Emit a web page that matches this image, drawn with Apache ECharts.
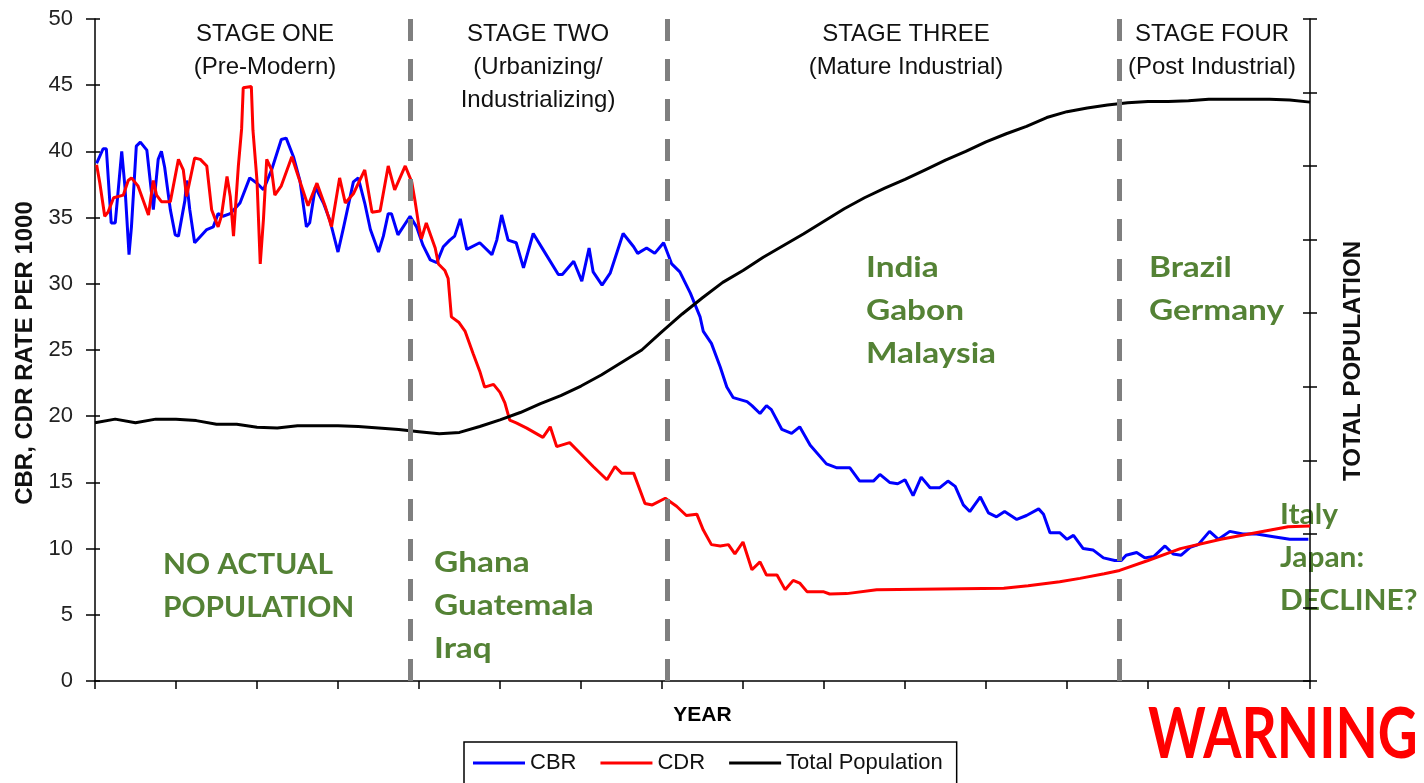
<!DOCTYPE html>
<html>
<head>
<meta charset="utf-8">
<title>Demographic Transition</title>
<script src="https://cdn.jsdelivr.net/npm/echarts@6/dist/echarts.min.js"></script>
<style>
  html, body { margin: 0; padding: 0; background: #fff; }
  #chart { width: 1424px; height: 783px; }
</style>
</head>
<body>
<div id="chart"></div>
<script>
// x = position along the (unlabelled) YEAR axis, 15 tick intervals
const cbr = [
  [0.02, 39.1], [0.10, 40.2], [0.14, 40.2], [0.20, 34.6], [0.25, 34.6], [0.33, 40.0], [0.37, 37.3],
  [0.42, 32.2], [0.45, 34.3], [0.51, 40.4], [0.56, 40.7], [0.64, 40.1], [0.69, 37.3], [0.72, 35.6],
  [0.78, 39.4], [0.82, 40.0], [0.86, 38.8], [0.93, 35.6], [0.99, 33.7], [1.03, 33.6], [1.11, 36.3],
  [1.13, 37.8], [1.17, 35.6], [1.23, 33.1], [1.29, 33.5], [1.38, 34.1], [1.46, 34.3], [1.52, 35.3],
  [1.58, 35.1], [1.67, 35.3], [1.79, 36.1], [1.91, 38.0], [2.00, 37.6], [2.08, 37.1], [2.18, 38.6],
  [2.30, 40.9], [2.36, 41.0], [2.45, 39.6], [2.53, 37.8], [2.61, 34.3], [2.65, 34.6], [2.72, 37.3],
  [2.82, 36.1], [2.90, 34.8], [3.00, 32.4], [3.07, 34.3], [3.19, 37.7], [3.25, 38.0], [3.33, 36.1],
  [3.40, 34.1], [3.50, 32.4], [3.56, 33.6], [3.62, 35.3], [3.66, 35.3], [3.74, 33.7], [3.89, 35.1],
  [3.97, 34.3], [4.05, 32.9], [4.14, 31.8], [4.22, 31.6], [4.30, 32.8], [4.38, 33.3], [4.44, 33.6],
  [4.51, 34.9], [4.59, 32.6], [4.75, 33.1], [4.90, 32.2], [4.96, 33.3], [5.02, 35.2], [5.10, 33.3],
  [5.20, 33.1], [5.29, 31.2], [5.41, 33.8], [5.53, 32.6], [5.72, 30.7], [5.77, 30.7], [5.91, 31.7],
  [6.01, 30.2], [6.10, 32.7], [6.15, 30.9], [6.26, 29.9], [6.36, 30.8], [6.52, 33.8], [6.65, 32.8],
  [6.70, 32.3], [6.81, 32.7], [6.91, 32.3], [7.02, 33.1], [7.12, 31.5], [7.22, 30.9], [7.35, 29.3],
  [7.47, 27.5], [7.51, 26.4], [7.61, 25.5], [7.72, 23.7], [7.80, 22.2], [7.88, 21.4], [8.05, 21.1],
  [8.11, 20.8], [8.21, 20.2], [8.29, 20.8], [8.35, 20.5], [8.48, 19.0], [8.60, 18.7], [8.70, 19.2],
  [8.83, 17.8], [9.03, 16.4], [9.16, 16.1], [9.32, 16.1], [9.44, 15.1], [9.61, 15.1], [9.69, 15.6],
  [9.81, 15.0], [9.91, 14.9], [10.00, 15.2], [10.10, 14.0], [10.20, 15.4], [10.31, 14.6], [10.43, 14.6],
  [10.53, 15.1], [10.62, 14.7], [10.72, 13.3], [10.80, 12.8], [10.93, 13.9], [11.03, 12.7], [11.13, 12.4],
  [11.23, 12.8], [11.38, 12.2], [11.50, 12.5], [11.65, 13.0], [11.71, 12.6], [11.79, 11.2], [11.91, 11.2],
  [12.00, 10.7], [12.08, 11.0], [12.20, 10.0], [12.32, 9.9], [12.45, 9.3], [12.59, 9.1], [12.67, 9.1],
  [12.73, 9.5], [12.86, 9.7], [12.96, 9.3], [13.07, 9.4], [13.21, 10.2], [13.31, 9.6], [13.41, 9.5],
  [13.52, 10.1], [13.62, 10.3], [13.76, 11.3], [13.87, 10.7], [14.01, 11.3], [14.17, 11.1], [14.34, 11.1],
  [14.55, 10.9], [14.75, 10.7], [14.98, 10.7]
];

const cdr = [
  [0.02, 39.0], [0.06, 37.6], [0.12, 35.1], [0.16, 35.4], [0.23, 36.5], [0.35, 36.7], [0.41, 37.8],
  [0.45, 38.0], [0.53, 37.4], [0.66, 35.2], [0.72, 37.8], [0.76, 36.7], [0.82, 36.2], [0.93, 36.2],
  [1.03, 39.4], [1.09, 38.6], [1.13, 36.6], [1.23, 39.5], [1.30, 39.4], [1.38, 38.9], [1.44, 35.6],
  [1.52, 34.3], [1.56, 35.1], [1.63, 38.1], [1.67, 36.6], [1.71, 33.6], [1.77, 38.9], [1.81, 41.7],
  [1.83, 44.8], [1.93, 44.9], [1.95, 41.6], [2.00, 37.8], [2.04, 31.5], [2.08, 34.9], [2.12, 39.4],
  [2.18, 38.6], [2.22, 36.7], [2.30, 37.4], [2.43, 39.6], [2.51, 38.1], [2.63, 35.9], [2.74, 37.6],
  [2.84, 35.9], [2.92, 34.3], [3.02, 38.0], [3.09, 36.1], [3.19, 36.8], [3.33, 38.6], [3.42, 35.4],
  [3.52, 35.5], [3.62, 38.9], [3.70, 37.1], [3.83, 38.9], [3.91, 37.7], [3.95, 36.3], [4.00, 34.3],
  [4.03, 33.4], [4.09, 34.6], [4.11, 34.5], [4.20, 32.7], [4.24, 31.5], [4.32, 31.0], [4.36, 30.4],
  [4.40, 27.5], [4.49, 27.1], [4.57, 26.4], [4.67, 24.7], [4.75, 23.4], [4.81, 22.2], [4.92, 22.4],
  [5.00, 21.8], [5.06, 21.0], [5.12, 19.7], [5.20, 19.5], [5.33, 19.1], [5.53, 18.4], [5.62, 19.2],
  [5.70, 17.7], [5.86, 18.0], [5.99, 17.2], [6.15, 16.2], [6.32, 15.2], [6.42, 16.2], [6.50, 15.7],
  [6.65, 15.7], [6.79, 13.4], [6.88, 13.3], [7.04, 13.8], [7.18, 13.2], [7.30, 12.5], [7.43, 12.6],
  [7.51, 11.4], [7.61, 10.3], [7.72, 10.2], [7.82, 10.3], [7.90, 9.6], [8.00, 10.5], [8.11, 8.4],
  [8.21, 9.0], [8.29, 8.0], [8.42, 8.0], [8.52, 6.9], [8.62, 7.6], [8.70, 7.4], [8.79, 6.75],
  [8.99, 6.75], [9.07, 6.57], [9.28, 6.6], [9.65, 6.9], [11.22, 7.0], [11.52, 7.2], [11.91, 7.5],
  [12.16, 7.75], [12.46, 8.1], [12.65, 8.35], [13.00, 9.1], [13.40, 10.0], [13.90, 10.7],
  [14.38, 11.25], [14.73, 11.65], [15.00, 11.7]
];

// total population, right axis (unlabelled units)
const population = [
  [0, 3.51], [0.25, 3.56], [0.5, 3.51], [0.75, 3.56], [1, 3.56], [1.25, 3.54], [1.5, 3.49], [1.75, 3.49],
  [2, 3.45], [2.25, 3.44], [2.5, 3.47], [2.75, 3.47], [3, 3.47], [3.25, 3.46], [3.5, 3.44], [3.75, 3.42],
  [4, 3.39], [4.25, 3.36], [4.5, 3.38], [4.75, 3.46], [5, 3.55], [5.25, 3.65], [5.5, 3.77], [5.75, 3.88],
  [6, 4.01], [6.25, 4.16], [6.5, 4.33], [6.75, 4.50], [7, 4.75], [7.25, 4.99], [7.5, 5.21], [7.75, 5.42],
  [8, 5.58], [8.25, 5.76], [8.5, 5.92], [8.75, 6.08], [9, 6.25], [9.25, 6.42], [9.5, 6.57], [9.75, 6.70],
  [10, 6.82], [10.25, 6.95], [10.5, 7.08], [10.75, 7.20], [11, 7.33], [11.25, 7.44], [11.5, 7.54],
  [11.75, 7.66], [12, 7.74], [12.25, 7.79], [12.5, 7.83], [12.75, 7.86], [13, 7.88], [13.25, 7.88],
  [13.5, 7.89], [13.75, 7.91], [14, 7.91], [14.25, 7.91], [14.5, 7.91], [14.75, 7.90], [15, 7.87]
];

// stage boundaries (dashed lines)
const stageBounds = [3.89, 7.06, 12.65];

const stageTitles = [
  { x: 265, text: 'STAGE ONE\n(Pre-Modern)' },
  { x: 538, text: 'STAGE TWO\n(Urbanizing/\nIndustrializing)' },
  { x: 906, text: 'STAGE THREE\n(Mature Industrial)' },
  { x: 1212, text: 'STAGE FOUR\n(Post Industrial)' }
];

const examples = [
  { x: 163, y: 564, text: 'NO ACTUAL\nPOPULATION' },
  { x: 434, y: 562, text: 'Ghana\nGuatemala\nIraq' },
  { x: 866, y: 267, text: 'India\nGabon\nMalaysia' },
  { x: 1149, y: 267, text: 'Brazil\nGermany' },
  { x: 1280, y: 514, text: 'Italy\nJapan:\nDECLINE?' }
];

const FONT = 'Liberation Sans';
const GREEN = '#548235';

const chart = echarts.init(document.getElementById('chart'));

const axisLine = { show: true, onZero: false, lineStyle: { color: '#000', width: 1.5 } };
const tickStyle = { color: '#000', width: 1.5 };

const graphic = [];
stageTitles.forEach(function (s) {
  graphic.push({
    type: 'text', x: s.x, y: 18,
    style: { text: s.text, font: '24px "' + FONT + '"', fill: '#111', textAlign: 'center', textVerticalAlign: 'top', lineHeight: 33 }
  });
});
examples.forEach(function (e) {
  // blocks with an all-caps line come out wider in Lato than in the original face
  const hasCaps = e.text.split('\n').some(function (l) { return l.length > 6 && l === l.toUpperCase(); });
  graphic.push({
    type: 'text', x: e.x, y: e.y - 21, scaleX: hasCaps ? 1.03 : 1.15,
    style: { text: e.text, font: 'bold 29px Lato', fill: GREEN, textAlign: 'left', textVerticalAlign: 'top', lineHeight: 43 }
  });
});
graphic.push({
  type: 'text', x: 1148, y: 735, scaleY: 1.3,
  style: { text: 'WARNING', font: 'bold 55px Lato', fill: '#ff0000', textAlign: 'left', textVerticalAlign: 'middle' }
});

chart.setOption({
  animation: false,
  grid: { left: 95, right: 114, top: 19, bottom: 102, containLabel: false, outerBoundsMode: 'none' },
  legend: {
    data: ['CBR', 'CDR', 'Total Population'],
    left: 464, top: 742,
    icon: 'rect',
    itemWidth: 52, itemHeight: 3, itemGap: 24,
    padding: [10, 14, 14, 9],
    borderColor: '#000', borderWidth: 1.5,
    textStyle: { fontFamily: FONT, fontSize: 22, color: '#111' }
  },
  xAxis: [
    {
      type: 'value', min: 0, max: 15, interval: 1,
      axisLine: axisLine, axisTick: { show: true, length: 8, lineStyle: tickStyle },
      axisLabel: { show: false }, splitLine: { show: false },
      name: 'YEAR', nameLocation: 'middle', nameGap: 24,
      nameTextStyle: { fontFamily: FONT, fontWeight: 'bold', fontSize: 21, color: '#000' }
    },
    {
      type: 'value', min: 0, max: 15, interval: 1,
      axisLine: { show: false }, axisTick: { show: true, inside: true, length: 6, lineStyle: tickStyle },
      axisLabel: { show: false }, splitLine: { show: false }
    }
  ],
  yAxis: [
    {
      type: 'value', min: 0, max: 50, interval: 5, position: 'left',
      axisLine: axisLine, axisTick: { show: true, length: 9, lineStyle: tickStyle },
      axisLabel: { fontFamily: FONT, fontSize: 22, color: '#222', margin: 22 },
      splitLine: { show: false },
      name: 'CBR, CDR RATE PER 1000', nameLocation: 'middle', nameGap: 51, nameRotate: 90,
      nameTextStyle: { fontFamily: FONT, fontWeight: 'bold', fontSize: 24, color: '#111', padding: [0, 6, 0, 0] }
    },
    {
      type: 'value', min: 0, max: 9, interval: 1, position: 'right',
      axisLine: axisLine, axisTick: { show: true, length: 7, lineStyle: tickStyle },
      axisLabel: { show: false }, splitLine: { show: false },
      name: 'TOTAL POPULATION', nameLocation: 'middle', nameGap: 31, nameRotate: 90,
      nameTextStyle: { fontFamily: FONT, fontWeight: 'bold', fontSize: 24, color: '#111', padding: [0, 22, 0, 0] }
    },
    {
      type: 'value', min: 0, max: 50, interval: 5, position: 'left',
      axisLine: { show: false, onZero: false }, axisTick: { show: true, inside: true, length: 5, lineStyle: tickStyle },
      axisLabel: { show: false }, splitLine: { show: false }
    },
    {
      type: 'value', min: 0, max: 9, interval: 1, position: 'right',
      axisLine: { show: false, onZero: false }, axisTick: { show: true, inside: true, length: 7, lineStyle: tickStyle },
      axisLabel: { show: false }, splitLine: { show: false }
    }
  ],
  series: [
    {
      name: 'CBR', type: 'line', data: cbr, symbol: 'none',
      lineStyle: { color: '#0000ff', width: 3 }, itemStyle: { color: '#0000ff' }
    },
    {
      name: 'CDR', type: 'line', data: cdr, symbol: 'none',
      lineStyle: { color: '#ff0000', width: 3 }, itemStyle: { color: '#ff0000' }
    },
    {
      name: 'Total Population', type: 'line', yAxisIndex: 1, data: population, symbol: 'none',
      lineStyle: { color: '#000', width: 3 }, itemStyle: { color: '#000' }
    },
    {
      name: 'stages', type: 'line', data: [], z: 5,
      markLine: {
        silent: true, symbol: ['none', 'none'], label: { show: false },
        lineStyle: { color: '#7f7f7f', width: 5, type: [22, 18] },
        data: stageBounds.map(function (v) { return { xAxis: v }; })
      }
    }
  ],
  graphic: graphic
});
</script>
</body>
</html>
